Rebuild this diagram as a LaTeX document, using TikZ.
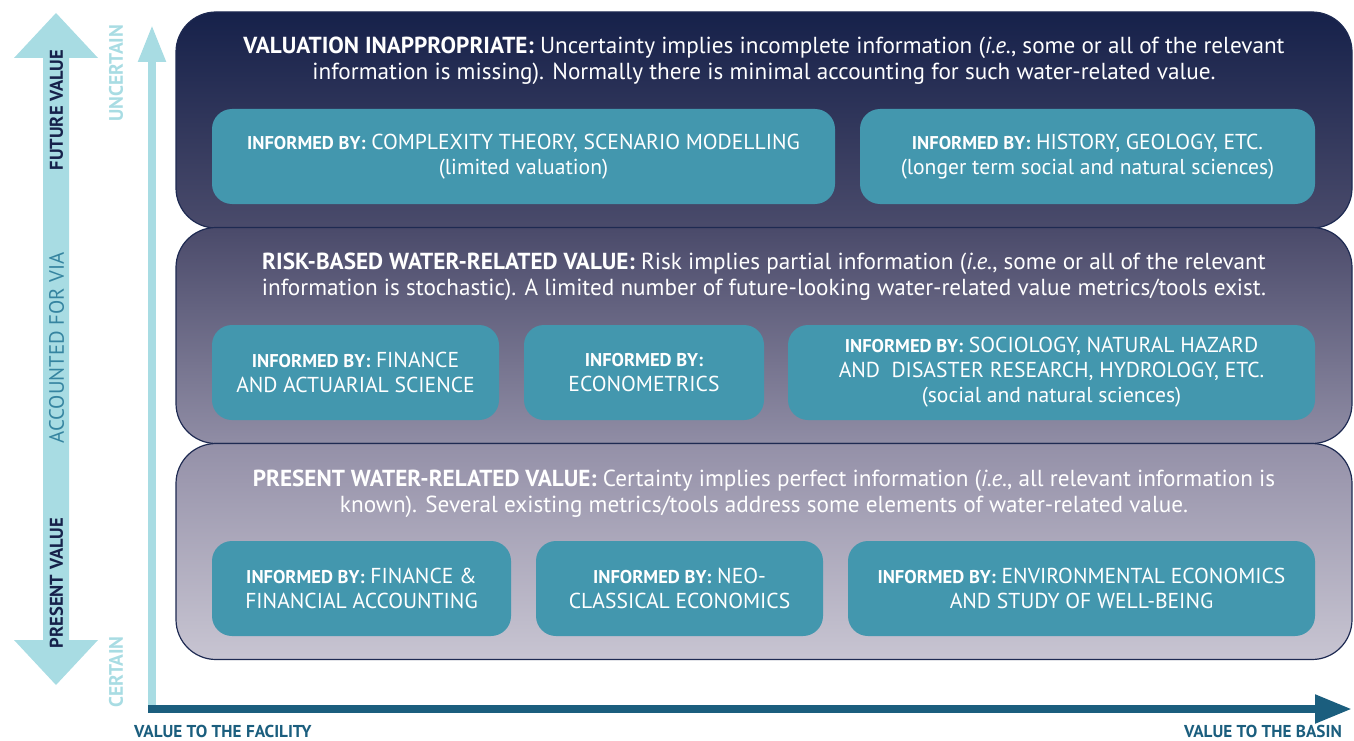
\documentclass[tikz,border=0pt]{standalone}
\usepackage{fontspec}
\setmainfont{PT Sans}
\usetikzlibrary{arrows.meta}
\definecolor{navy}{HTML}{16214A}
\definecolor{ltc}{HTML}{A8DCE3}
\definecolor{boxc}{HTML}{4397AE}
\definecolor{axisc}{HTML}{1B5E7E}
\definecolor{accc}{HTML}{3584A0}
\definecolor{edgec}{HTML}{1E2A52}
\definecolor{pAt}{HTML}{16214A}
\definecolor{pAb}{HTML}{4A4B6B}
\definecolor{pBt}{HTML}{4A4A6A}
\definecolor{pBb}{HTML}{908DA5}
\definecolor{pCt}{HTML}{9490A8}
\definecolor{pCb}{HTML}{C8C5D2}
\newcommand\ib{\bfseries\fontsize{18.5}{25}\selectfont}
\begin{document}
\begin{tikzpicture}[x=1pt,y=-1pt,
  panel/.style={draw=edgec,line width=1.2pt,rounded corners=40pt,inner sep=0pt,
    minimum width=1176pt,minimum height=216pt},
  head/.style={text=white,align=center,inner sep=0pt,font=\fontsize{23.2}{26}\selectfont},
  ibox/.style={fill=boxc,rounded corners=20pt,inner sep=0pt,text=white,align=center,
    minimum height=95pt,font=\fontsize{21.6}{25}\selectfont},
  sidebold/.style={rotate=90,inner sep=0pt,font=\bfseries\fontsize{18.5}{20}\selectfont},
  axislabel/.style={inner sep=0pt,text=axisc,font=\bfseries\fontsize{17.2}{20}\selectfont}]
\useasboundingbox (0,0) rectangle (1354,741);
% panels
\node[panel,top color=pAt,bottom color=pAb] (p1) at (764,120) {};
\node[panel,top color=pBt,bottom color=pBb] (p2) at (764,335.5) {};
\node[panel,top color=pCt,bottom color=pCb] (p3) at (764,551.5) {};
% headings
\node[head] (h1) at (764,61) {{\bfseries VALUATION INAPPROPRIATE:} Uncertainty implies incomplete information (\textit{i.e.}, some or all of the relevant\\information is missing). Normally there is minimal accounting for such water-related value.};
\node[head] (h2) at (764,277) {{\bfseries RISK-BASED WATER-RELATED VALUE:} Risk implies partial information (\textit{i.e.}, some or all of the relevant\\information is stochastic). A limited number of future-looking water-related value metrics/tools exist.};
\node[head] (h3) at (764,493.5) {{\bfseries PRESENT WATER-RELATED VALUE:} Certainty implies perfect information (\textit{i.e.}, all relevant information is\\known). Several existing metrics/tools address some elements of water-related value.};
% boxes
\node[ibox,minimum width=623pt] (bA) at (523.5,156.5) {{\ib INFORMED BY:} COMPLEXITY THEORY, SCENARIO MODELLING\\(limited valuation)};
\node[ibox,minimum width=455pt] (bB) at (1087.5,156.5) {{\ib INFORMED BY:} HISTORY, GEOLOGY, ETC.\\(longer term social and natural sciences)};
\node[ibox,minimum width=287pt] (bC) at (355.5,372.5) {{\ib INFORMED BY:} FINANCE\\AND ACTUARIAL SCIENCE};
\node[ibox,minimum width=240pt] (bD) at (644,372.5) {{\ib INFORMED BY:}\\ECONOMETRICS};
\node[ibox,minimum width=527pt] (bE) at (1051.5,372.5) {{\ib INFORMED BY:} SOCIOLOGY, NATURAL HAZARD\\AND~~DISASTER RESEARCH, HYDROLOGY, ETC.\\(social and natural sciences)};
\node[ibox,minimum width=299pt] (bF) at (361.5,588.5) {{\ib INFORMED BY:} FINANCE \&\\FINANCIAL ACCOUNTING};
\node[ibox,minimum width=287pt] (bG) at (679.5,588.5) {{\ib INFORMED BY:} NEO-\\CLASSICAL ECONOMICS};
\node[ibox,minimum width=467pt] (bH) at (1081.5,588.5) {{\ib INFORMED BY:} ENVIRONMENTAL ECONOMICS\\AND STUDY OF WELL-BEING};
% big double arrow
\fill[ltc] (43,58) -- (14,58) -- (56,13) -- (98,58) -- (69,58) -- (69,640) -- (98,640) -- (56,685) -- (14,640) -- (43,640) -- cycle;
\node[sidebold,text=navy] (fv) at (56.5,110) {FUTURE VALUE};
\node[rotate=90,inner sep=0pt,text=accc,font=\fontsize{20.8}{22}\selectfont] (acc) at (56.5,348) {ACCOUNTED FOR VIA};
\node[sidebold,text=navy] (pv) at (56.5,583) {PRESENT VALUE};
\node[sidebold,text=ltc,font=\bfseries\fontsize{19.5}{20}\selectfont] (unc) at (116,73) {UNCERTAIN};
\node[sidebold,text=ltc,font=\bfseries\fontsize{19.5}{20}\selectfont] (cer) at (116,672) {CERTAIN};
% axes
\coordinate (ybot) at (152,713);
\coordinate (ytop) at (152,25);
\coordinate (xstart) at (148,709);
\coordinate (xend) at (1352,709);
\draw[ltc,line width=8pt,-{Triangle[length=37pt,width=26pt]}] (ybot) -- (ytop);
\draw[axisc,line width=8pt,-{Triangle[length=37pt,width=27pt]}] (xstart) -- (xend);
\node[axislabel,anchor=west] (lf) at (134,731) {VALUE TO THE FACILITY};
\node[axislabel,anchor=east] (lb) at (1342,731) {VALUE TO THE BASIN};
\end{tikzpicture}
\end{document}
